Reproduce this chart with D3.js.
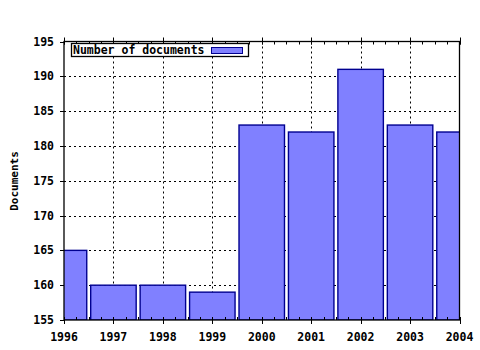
<!DOCTYPE html>
<html>
<head>
<meta charset="utf-8">
<script src="https://cdn.jsdelivr.net/npm/d3@7"></script>
<style>
  body { margin: 0; background: #fff; }
  text { font-family: "DejaVu Sans Mono", monospace; font-weight: bold; fill: #000; }
</style>
</head>
<body>
<svg id="chart" width="480" height="350"></svg>
<script>
var years = [1996, 1997, 1998, 1999, 2000, 2001, 2002, 2003, 2004];
var docs = [165, 160, 160, 159, 183, 182, 191, 183, 182];
var yTicks = [155, 160, 165, 170, 175, 180, 185, 190, 195];
var legendLabel = "Number of documents";
var yTitle = "Documents";

var pLeft = 64, pRight = 459.5, pTop = 41.5, pBottom = 320;
var svg = d3.select("#chart");

var x = d3.scaleLinear().domain([1996, 2004]).range([pLeft, pRight]);
var y = d3.scaleLinear().domain([155, 195]).range([pBottom, pTop]);
var step = x(1997) - x(1996);
var barW = step * 0.92;

function px(v) { return Math.round(v) + 0.5; }

svg.append("defs").append("clipPath").attr("id", "plot")
   .append("rect")
   .attr("x", pLeft).attr("y", pTop)
   .attr("width", pRight - pLeft).attr("height", pBottom - pTop);

// grid, drawn under the bars
var grid = svg.append("g").attr("stroke", "#000").attr("stroke-width", 1)
              .attr("stroke-dasharray", "2,3");
grid.selectAll(".gy").data(yTicks.slice(1, -1)).enter().append("line")
    .attr("x1", pLeft).attr("x2", pRight)
    .attr("y1", function(d) { return px(y(d)); })
    .attr("y2", function(d) { return px(y(d)); });
grid.selectAll(".gx").data(years.slice(1, -1)).enter().append("line")
    .attr("y1", pTop).attr("y2", pBottom)
    .attr("x1", function(d) { return px(x(d)); })
    .attr("x2", function(d) { return px(x(d)); });

// bars
svg.append("g").attr("clip-path", "url(#plot)")
   .selectAll("rect").data(years).enter().append("rect")
   .attr("x", function(d) { return x(d) - barW / 2; })
   .attr("y", function(d, i) { return y(docs[i]); })
   .attr("width", barW)
   .attr("height", function(d, i) { return pBottom - y(docs[i]); })
   .attr("fill", "#8080ff")
   .attr("stroke", "#000090")
   .attr("stroke-width", 1.4);

// frame
svg.append("rect")
   .attr("x", pLeft).attr("y", pTop)
   .attr("width", pRight - pLeft).attr("height", pBottom - pTop)
   .attr("fill", "none").attr("stroke", "#000").attr("stroke-width", 1.3);

// minor ticks on top and bottom
var minor = d3.range(0, 33).map(function(i) { return 1996 + i / 4; });
var ticks = svg.append("g").attr("stroke", "#000").attr("stroke-width", 1);
ticks.selectAll(".mb").data(minor).enter().append("line")
     .attr("x1", function(d) { return px(x(d)); })
     .attr("x2", function(d) { return px(x(d)); })
     .attr("y1", pBottom).attr("y2", pBottom - 3);
ticks.selectAll(".mt").data(minor).enter().append("line")
     .attr("x1", function(d) { return px(x(d)); })
     .attr("x2", function(d) { return px(x(d)); })
     .attr("y1", pTop).attr("y2", pTop + 3);
ticks.selectAll(".Mb").data(years).enter().append("line")
     .attr("x1", function(d) { return px(x(d)); })
     .attr("x2", function(d) { return px(x(d)); })
     .attr("y1", pBottom - 3).attr("y2", pBottom + 4);
ticks.selectAll(".Mt").data(years).enter().append("line")
     .attr("x1", function(d) { return px(x(d)); })
     .attr("x2", function(d) { return px(x(d)); })
     .attr("y1", pTop - 4).attr("y2", pTop + 3);
ticks.selectAll(".yl").data(yTicks).enter().append("line")
     .attr("x1", pLeft - 4).attr("x2", pLeft)
     .attr("y1", function(d) { return px(y(d)); })
     .attr("y2", function(d) { return px(y(d)); });

// tick labels
svg.append("g").selectAll("text").data(yTicks).enter().append("text")
   .attr("x", 54).attr("y", function(d) { return y(d) + 4; })
   .attr("text-anchor", "end").attr("font-size", "11.5px")
   .text(function(d) { return d; });
svg.append("g").selectAll("text").data(years).enter().append("text")
   .attr("x", function(d) { return x(d); }).attr("y", 341)
   .attr("text-anchor", "middle").attr("font-size", "11.5px")
   .text(function(d) { return d; });

svg.append("text")
   .attr("transform", "translate(18,181) rotate(-90)")
   .attr("text-anchor", "middle").attr("font-size", "11px")
   .text(yTitle);

// legend
var lg = svg.append("g");
lg.append("rect").attr("x", 71.5).attr("y", 43.5).attr("width", 177).attr("height", 13)
  .attr("fill", "#fff").attr("stroke", "#000").attr("stroke-width", 1.3);
lg.append("text").attr("x", 73).attr("y", 54).attr("font-size", "11.5px").text(legendLabel);
lg.append("rect").attr("x", 211.5).attr("y", 47.5).attr("width", 31).attr("height", 6)
  .attr("fill", "#8080ff").attr("stroke", "#000090").attr("stroke-width", 1);
</script>
</body>
</html>
